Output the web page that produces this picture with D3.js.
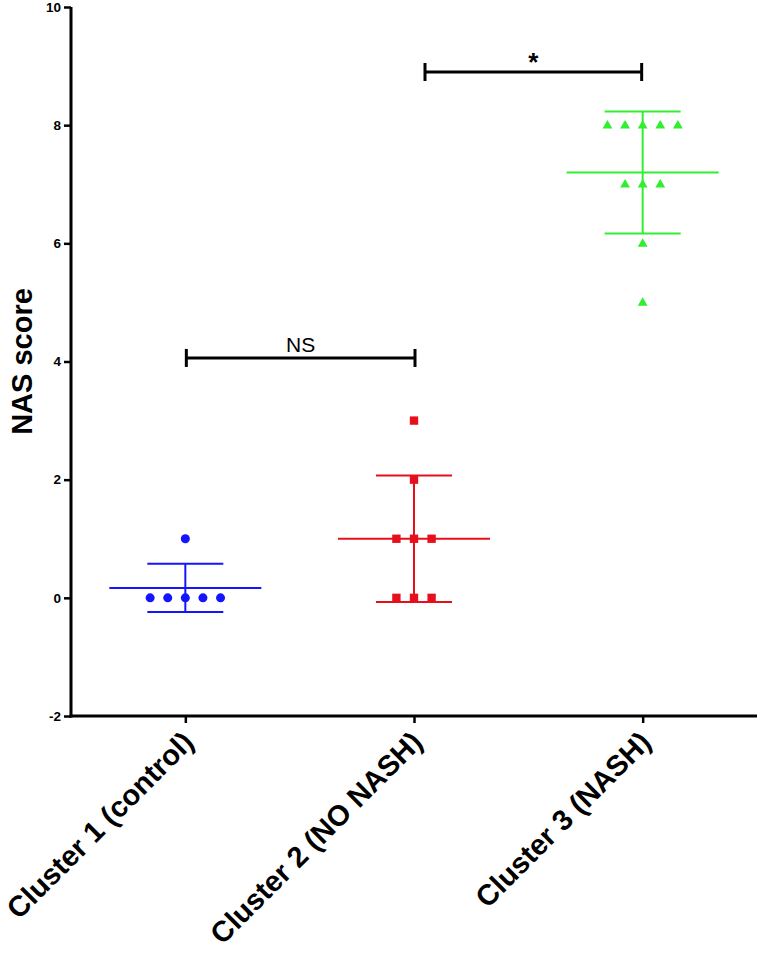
<!DOCTYPE html>
<html>
<head>
<meta charset="utf-8">
<script src="https://cdn.jsdelivr.net/npm/d3@7"></script>
<style>
  html, body { margin: 0; padding: 0; background: #fff; }
  svg { display: block; font-family: "Liberation Sans", Arial, Helvetica, sans-serif; }
</style>
</head>
<body>
<svg id="chart" width="761" height="957"></svg>
<script>
// ---- data ----
const categories = ["Cluster 1 (control)", "Cluster 2 (NO NASH)", "Cluster 3 (NASH)"];
const cluster1 = [0, 0, 0, 0, 0, 1];
const cluster2 = [0, 0, 0, 1, 1, 1, 2, 3];
const cluster3 = [5, 6, 7, 7, 7, 8, 8, 8, 8, 8];
const seriesValues = [cluster1, cluster2, cluster3];
const seriesColors = ["#1414ff", "#e5101c", "#30ee30"];
const seriesShapes = ["circle", "square", "triangle"];
const yTicks = [-2, 0, 2, 4, 6, 8, 10];
const yLabel = "NAS score";
const compFrom = [0, 1];
const compTo = [1, 2];
const compLevel = [4.06, 8.9];
const compLabel = ["NS", "*"];

// ---- layout ----
const svg = d3.select("#chart");
const x = d3.scalePoint().domain(categories).range([71, 757]).padding(0.5);
const y = d3.scaleLinear().domain([-2, 10]).range([716, 7]);

// y axis
const yAxis = svg.append("g").attr("transform", "translate(71,0)")
  .call(d3.axisLeft(y).tickValues(yTicks).tickSize(7).tickPadding(3).tickFormat(d => String(d)));
yAxis.attr("font-family", "'Liberation Sans', Arial, sans-serif");
yAxis.select(".domain").attr("stroke", "#000").attr("stroke-width", 3).attr("d", `M0,${y(10)}V${y(-2) + 1.5}`);
yAxis.selectAll(".tick line").attr("stroke", "#000").attr("stroke-width", 2.5);
yAxis.selectAll(".tick text").attr("fill", "#000").attr("font-size", 13.5).attr("font-weight", "bold");

// x axis
const xAxis = svg.append("g").attr("transform", `translate(0,${y(-2)})`)
  .call(d3.axisBottom(x).tickSize(7).tickFormat(""));
xAxis.select(".domain").attr("stroke", "#000").attr("stroke-width", 3).attr("d", `M69.5,0H757`);
xAxis.selectAll(".tick line").attr("stroke", "#000").attr("stroke-width", 2.5);

// x labels rotated
svg.append("g").selectAll("text").data(categories).join("text")
  .attr("transform", d => `translate(${x(d) + 10},${y(-2) + 28}) rotate(-45)`)
  .attr("text-anchor", "end")
  .attr("font-size", 29).attr("font-weight", "bold").attr("fill", "#000")
  .text(d => d);

// y label
svg.append("text")
  .attr("transform", `translate(32,${y(4)}) rotate(-90)`)
  .attr("text-anchor", "middle")
  .attr("font-size", 29).attr("font-weight", "bold").attr("fill", "#000")
  .text(yLabel);

// ---- series ----
const spacing = 17.6;
const meanHalf = 76, capHalf = 38;
seriesValues.forEach((vals, i) => {
  const cx = x(categories[i]);
  const color = seriesColors[i];
  const g = svg.append("g");
  const m = d3.mean(vals), sd = d3.deviation(vals);
  // error bars
  g.append("line").attr("x1", cx).attr("x2", cx).attr("y1", y(m + sd)).attr("y2", y(m - sd))
    .attr("stroke", color).attr("stroke-width", 2);
  [m + sd, m - sd].forEach(v => g.append("line").attr("x1", cx - capHalf).attr("x2", cx + capHalf)
    .attr("y1", y(v)).attr("y2", y(v)).attr("stroke", color).attr("stroke-width", 2));
  g.append("line").attr("x1", cx - meanHalf).attr("x2", cx + meanHalf).attr("y1", y(m)).attr("y2", y(m))
    .attr("stroke", color).attr("stroke-width", 2);
  // points, spread horizontally when values tie
  const groups = d3.group(vals, v => v);
  const pts = [];
  groups.forEach((arr, v) => arr.forEach((_, k) => pts.push({ v, dx: (k - (arr.length - 1) / 2) * spacing })));
  const shape = seriesShapes[i];
  let sym;
  if (shape === "circle") sym = d3.symbol(d3.symbolCircle, 64);
  else if (shape === "square") sym = d3.symbol(d3.symbolSquare, 70);
  else sym = d3.symbol(d3.symbolTriangle, 42);
  g.selectAll("path.pt").data(pts).join("path").attr("class", "pt")
    .attr("d", sym)
    .attr("transform", d => `translate(${cx + d.dx},${y(d.v) + (shape === "triangle" ? 0.5 : 0)})`)
    .attr("fill", color);
});

// ---- comparison brackets ----
compFrom.forEach((f, i) => {
  const x1 = x(categories[f]) + (i === 1 ? 11 : 1);
  const x2 = x(categories[compTo[i]]) + (i === 1 ? -1 : 1);
  const yy = y(compLevel[i]);
  const g = svg.append("g").attr("stroke", "#000").attr("stroke-width", 3);
  g.append("line").attr("x1", x1).attr("x2", x2).attr("y1", yy).attr("y2", yy);
  g.append("line").attr("x1", x1).attr("x2", x1).attr("y1", yy - 9).attr("y2", yy + 9);
  g.append("line").attr("x1", x2).attr("x2", x2).attr("y1", yy - 9).attr("y2", yy + 9);
  svg.append("text")
    .attr("x", (x1 + x2) / 2).attr("y", i === 0 ? yy - 6 : yy - 1)
    .attr("text-anchor", "middle")
    .attr("font-size", i === 0 ? 21 : 26)
    .attr("font-weight", i === 0 ? "normal" : "bold")
    .attr("fill", "#000")
    .text(compLabel[i]);
});
</script>
</body>
</html>
